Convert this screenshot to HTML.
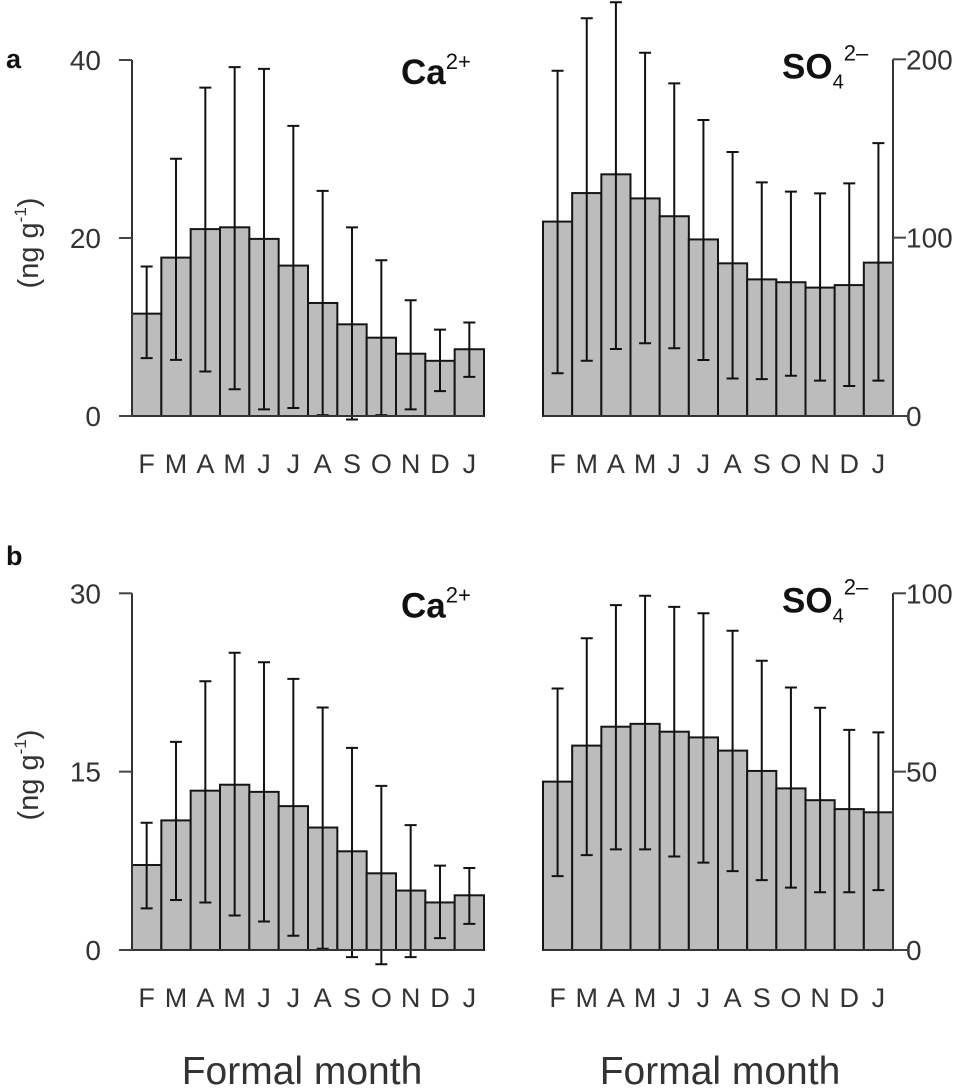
<!DOCTYPE html>
<html><head><meta charset="utf-8"><style>
html,body{margin:0;padding:0;background:#fff;}
svg{display:block;font-family:"Liberation Sans",Arial,sans-serif;}
</style></head><body>
<svg id="fig" width="980" height="1090" viewBox="0 0 980 1090" xmlns="http://www.w3.org/2000/svg">
<text x="6" y="68" font-size="27" font-weight="bold" fill="#111">a</text>
<text x="6" y="565" font-size="27" font-weight="bold" fill="#111">b</text>
<text transform="translate(38,243) rotate(-90)" text-anchor="middle" font-size="29" fill="#333">(ng g<tspan dy="-12" font-size="17">-1</tspan><tspan dy="12">)</tspan></text>
<text transform="translate(38,775) rotate(-90)" text-anchor="middle" font-size="29" fill="#333">(ng g<tspan dy="-12" font-size="17">-1</tspan><tspan dy="12">)</tspan></text>
<text x="302" y="1084" text-anchor="middle" font-size="39" fill="#333">Formal month</text>
<text x="720" y="1084" text-anchor="middle" font-size="39" fill="#333">Formal month</text>
</svg>
<script>
const months = ["F","M","A","M","J","J","A","S","O","N","D","J"];
const caA = [11.5,17.8,21.0,21.2,19.9,16.9,12.7,10.3,8.8,7.0,6.2,7.5];
const caAHi = [16.8,28.9,36.9,39.2,39.0,32.6,25.3,21.2,17.5,13.0,9.7,10.5];
const caALo = [6.5,6.3,5.0,3.0,0.75,0.9,0.1,-0.4,0.1,0.75,2.8,4.4];
const soA = [109,125,135.5,122,112,99,85.6,76.6,75,72,73.4,86];
const soAHi = [193.6,223,232,203.7,186.5,166,148,131,125.8,124.8,130.4,153];
const soALo = [24,31,37.6,40.8,38,31.4,21,20.7,22.6,19.8,16.8,19.8];
const caB = [7.15,10.9,13.4,13.9,13.3,12.1,10.3,8.3,6.45,5.0,4.0,4.6];
const caBHi = [10.7,17.5,22.6,25.0,24.2,22.8,20.4,17.0,13.8,10.5,7.1,6.9];
const caBLo = [3.5,4.2,4.0,2.9,2.4,1.2,0.1,-0.6,-1.2,-0.6,1.0,2.2];
const soB = [47.2,57.3,62.6,63.4,61.2,59.6,55.9,50.2,45.3,42,39.5,38.6];
const soBHi = [73.3,87.4,96.7,99.3,96.2,94.4,89.5,81.1,73.6,67.9,61.7,61];
const soBLo = [20.7,26.6,28.2,28.2,26.2,24.5,22.1,19.6,17.5,16.2,16.2,16.8];
const ticksCaA = [0,20,40], ticksSoA = [0,100,200], ticksCaB = [0,15,30], ticksSoB = [0,50,100];

const svg = document.getElementById('fig');
const NS = 'http://www.w3.org/2000/svg';
function mk(tag, attrs, parent){const e=document.createElementNS(NS,tag);for(const k in attrs)e.setAttribute(k,attrs[k]);(parent||svg).appendChild(e);return e;}

function panel(id, x0, x1, y0, yTop, vmax, vals, hi, lo, ticks, side, isSO){
  const g = mk('g',{});
  
  
  const bw = (x1-x0)/vals.length;
  const xs = i => x0 + i*bw;
  const ys = v => y0 - (v/vmax)*(y0-yTop);
  vals.forEach((v,i)=>{
    const r = mk('rect',{x:xs(i),y:ys(v),width:bw,height:y0-ys(v),fill:'#bcbcbc',stroke:'#151515','stroke-width':2},g);
    
    
  });
  vals.forEach((v,i)=>{
    const cx = xs(i)+bw/2;
    const e = mk('path',{d:`M${cx},${ys(hi[i])}V${ys(lo[i])}M${cx-6},${ys(hi[i])}H${cx+6}M${cx-6},${ys(lo[i])}H${cx+6}`,stroke:'#111','stroke-width':2,fill:'none'},g);
    
    
  });
  const ax = side==='left'? x0 : x1;
  const dir = side==='left'? -1 : 1;
  mk('line',{x1:ax,y1:yTop,x2:ax,y2:y0,stroke:'#333','stroke-width':2},g);
  mk('line',{x1:side==='left'?x0-12:x0,y1:y0,x2:side==='left'?x1:x1+14,y2:y0,stroke:'#333','stroke-width':2},g);
  ticks.forEach(t=>{
    mk('line',{x1:ax,y1:ys(t),x2:ax+dir*13,y2:ys(t),stroke:'#444','stroke-width':2},g);
    const tx = mk('text',{x:side==='left'?ax-31:ax+13,y:ys(t)+10,'text-anchor':side==='left'?'end':'start','font-size':28,fill:'#333'},g);
    tx.textContent = t;
    
    
  });
  months.forEach((m,i)=>{
    const tx = mk('text',{x:xs(i)+bw/2,y:y0+57,'text-anchor':'middle','font-size':27,fill:'#333'},g);
    tx.textContent = m;
    
    
  });
  const tt = mk('text',{x:isSO?782:401,y:isSO?yTop+19:yTop+24,'font-size':35,'font-weight':'bold',fill:'#111'},g);
  
  
  if(isSO){
    tt.innerHTML = 'SO<tspan dy="10" font-size="20" font-weight="normal">4</tspan><tspan dy="-28" font-size="22" font-weight="normal">2&#8211;</tspan>';
  } else {
    tt.innerHTML = 'Ca<tspan dy="-15" font-size="22" font-weight="normal">2+</tspan>';
  }
}
panel('panel-a-calcium',132,484,416,60,40,caA,caAHi,caALo,ticksCaA,'left',false);
panel('panel-a-sulfate',543,893,416,59.3,200,soA,soAHi,soALo,ticksSoA,'right',true);
panel('panel-b-calcium',132,484,950,593.3,30,caB,caBHi,caBLo,ticksCaB,'left',false);
panel('panel-b-sulfate',543,893,950,593.3,100,soB,soBHi,soBLo,ticksSoB,'right',true);
</script>
</body></html>
